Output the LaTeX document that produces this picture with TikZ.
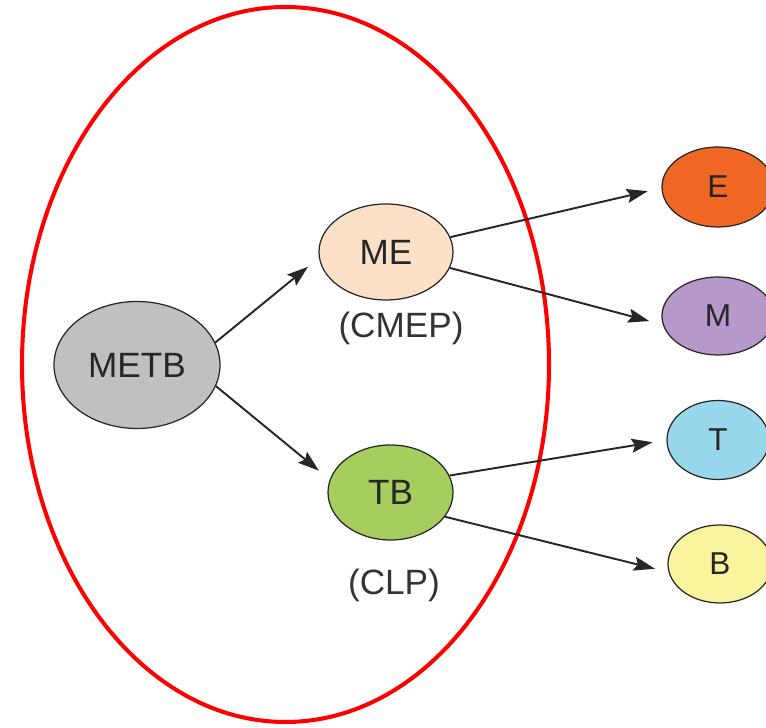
\documentclass[tikz,border=0pt]{standalone}
\usepackage{fontspec}
\setmainfont{Liberation Sans}
\usepackage{tikz}
\usetikzlibrary{shapes.geometric,arrows.meta}

\definecolor{metbgray}{RGB}{192,192,192}
\definecolor{mepeach}{RGB}{252,225,200}
\definecolor{tbgreen}{RGB}{165,206,95}
\definecolor{eorange}{RGB}{240,104,36}
\definecolor{mpurple}{RGB}{182,152,202}
\definecolor{tblue}{RGB}{152,215,236}
\definecolor{byellow}{RGB}{250,244,158}

\begin{document}
\begin{tikzpicture}[
	bubble/.style={ellipse, draw=black!85, line width=0.7pt, inner sep=0pt, text=black!85,
		font=\fontsize{20}{24}\selectfont},
	caption/.style={text=black!80, font=\fontsize{20}{24}\selectfont},
	link/.style={draw=black!85, line width=1.1pt, shorten >=8pt,
		-{Stealth[length=12pt,width=8pt,inset=2pt]}}
	]
	% Frame
	\clip (0,0) rectangle (15.32,14.56);

	% Red outline round the left group
	\draw[color=red, line width=2.3pt] (5.71,7.27) ellipse [x radius=5.27, y radius=7.15];

	% Left group
	\node[bubble, fill=metbgray, minimum width=3.32cm, minimum height=2.54cm] (metb) at (2.74,7.26) {METB};
	\node[bubble, fill=mepeach, minimum width=2.68cm, minimum height=1.92cm] (me) at (7.72,9.52) {ME};
	\node[bubble, fill=tbgreen, minimum width=2.50cm, minimum height=1.90cm] (tb) at (7.81,4.71) {TB};
	\node[caption] (cmep) at (8.02,8.00) {(CMEP)};
	\node[caption] (clp) at (7.88,2.86) {(CLP)};

	% Right column
	\node[bubble, fill=eorange, minimum width=2.24cm, minimum height=1.60cm, font=\fontsize{18}{21}\selectfont] (e) at (14.36,10.82) {E};
	\node[bubble, fill=mpurple, minimum width=2.24cm, minimum height=1.56cm, font=\fontsize{18}{21}\selectfont] (m) at (14.36,8.24) {M};
	\node[bubble, fill=tblue, minimum width=2.04cm, minimum height=1.58cm, font=\fontsize{18}{21}\selectfont] (t) at (14.36,5.76) {T};
	\node[bubble, fill=byellow, minimum width=2.08cm, minimum height=1.56cm, font=\fontsize{18}{21}\selectfont] (b) at (14.40,3.28) {B};

	% Arrows
	\draw[link] (metb.16) -- (me.185);
	\draw[link] (metb.-15) -- (tb.168);
	\draw[link] (me.13) -- (e.181);
	\draw[link] (me.-14) -- (m.189);
	\draw[link] (tb.16) -- (t.180);
	\draw[link] (tb.-24) -- (b.189);

\end{tikzpicture}
\end{document}
